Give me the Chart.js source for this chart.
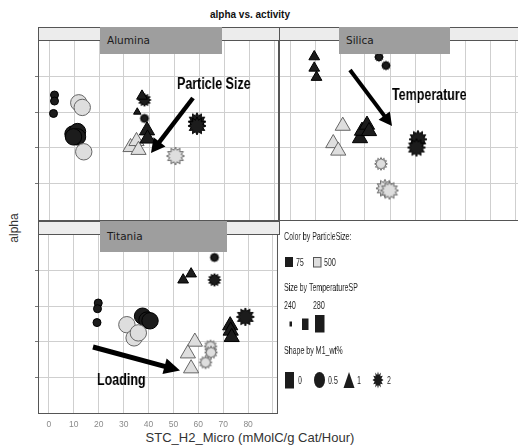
<!DOCTYPE html>
<html>
<head>
<meta charset="utf-8">
<title>alpha vs. activity</title>
<script src="https://cdn.jsdelivr.net/npm/chart.js@4.4.1/dist/chart.umd.min.js"></script>
<style>
  html, body { margin: 0; padding: 0; background: #fff; }
  body { width: 518px; height: 445px; position: relative; overflow: hidden; font-family: "Liberation Sans", Arial, sans-serif; }
  canvas { position: absolute; }
  .txt { position: absolute; white-space: nowrap; }
  .strip { position: absolute; height: 14px; box-sizing: border-box; background: #ececec;
           border: 1px solid #555; }
  .tab { position: absolute; background: #9e9e9e; color: #1b1b1b; font-family: "DejaVu Sans", sans-serif;
         font-size: 10.5px; padding-left: 7px; box-sizing: border-box; }
  .note { position: absolute; font-weight: bold; font-size: 16px; line-height: 18px; color: #000;
          transform: scaleX(0.78); transform-origin: left center; white-space: nowrap; will-change: transform; }
  .leg { position: absolute; font-size: 11px; line-height: 12px; color: #222; white-space: nowrap;
         transform: scaleX(0.64); transform-origin: left center; will-change: transform; }
  svg { position: absolute; left: 0; top: 0; }
</style>
</head>
<body>

<div class="txt" style="left:150px;top:9px;width:200px;text-align:center;font-weight:bold;font-size:10px;line-height:12px;color:#111">alpha vs. activity</div>
<div class="txt" style="left:-11px;top:221px;width:50px;height:14px;line-height:14px;text-align:center;font-size:12px;color:#333;transform:rotate(-90deg)">alpha</div>
<div class="txt" style="left:100px;top:431px;width:300px;text-align:center;font-size:13px;line-height:14px;color:#333">STC_H2_Micro (mMolC/g Cat/Hour)</div>

<canvas id="alumina" width="249" height="181" style="left:30px;top:40px"></canvas>
<canvas id="silica" width="241" height="181" style="left:279px;top:40px"></canvas>
<canvas id="titania" width="249" height="196" style="left:30px;top:234px"></canvas>

<div class="strip" style="left:38px;top:27px;width:242px"></div>
<div class="strip" style="left:279px;top:27px;width:245px"></div>
<div class="strip" style="left:38px;top:221px;width:242px"></div>
<div class="tab" style="left:100px;top:27px;width:122px;height:27px;line-height:27px">Alumina</div>
<div class="tab" style="left:339px;top:27px;width:111px;height:27px;line-height:27px">Silica</div>
<div class="tab" style="left:100px;top:221px;width:127px;height:31px;line-height:31px">Titania</div>

<div class="note" style="left:177px;top:75px">Particle Size</div>
<div class="note" style="left:392px;top:86px">Temperature</div>
<div class="note" style="left:97px;top:371px">Loading</div>

<div id="legend"></div>
<svg id="overlay" width="518" height="445"></svg>

<script>
// ---- values ----
const xTickLabels = [0, 10, 20, 30, 40, 50, 60, 70, 80];
const particleSizes = [75, 500];
const temperatureLabels = [240, 280];
const loadingLevels = [0, 0.5, 1, 2];

// Alumina
const aluminaX    = [2.2, 2.2, 1.8, 11.9, 13.3, 9.6, 11.4, 11.4, 9.8, 13.9, 38.2, 37.2, 35.3, 38.2, 32.6, 35.0, 35.8, 39.2, 39.4, 59.2, 59.2, 50.6];
const aluminaY    = [3.48, 3.31, 2.96, 3.26, 3.13, 2.38, 2.45, 2.30, 2.30, 1.88, 3.34, 3.45, 3.00, 2.82, 2.01, 2.18, 1.93, 2.48, 2.25, 2.73, 2.61, 1.76];
const aluminaPS   = [75, 75, 75, 500, 500, 75, 75, 75, 75, 500, 75, 75, 75, 75, 500, 500, 500, 75, 75, 75, 75, 500];
const aluminaTemp = [240, 240, 240, 280, 280, 280, 280, 280, 280, 280, 260, 260, 240, 240, 280, 280, 280, 280, 280, 280, 280, 280];
const aluminaWt   = [0.5, 0.5, 0.5, 0.5, 0.5, 0.5, 0.5, 0.5, 0.5, 0.5, 2, 1, 1, 2, 1, 1, 1, 1, 1, 2, 2, 2];

// Silica
const silicaX    = [9.7, 9.7, 10.6, 35.6, 38.4, 21.1, 17.3, 19.3, 28.0, 28.8, 30.8, 31.6, 36.4, 38.0, 39.8, 51.2, 50.6];
const silicaY    = [4.56, 4.24, 3.98, 4.55, 4.31, 2.61, 2.12, 1.91, 2.26, 2.47, 2.64, 2.46, 1.54, 0.85, 0.79, 2.23, 2.00];
const silicaPS   = [75, 75, 75, 75, 75, 500, 500, 500, 75, 75, 75, 75, 500, 500, 500, 75, 75];
const silicaTemp = [260, 260, 260, 240, 240, 280, 280, 280, 280, 280, 280, 280, 260, 280, 280, 280, 280];
const silicaWt   = [1, 1, 1, 2, 2, 1, 1, 1, 1, 1, 1, 1, 2, 2, 2, 2, 2];

// Titania
const titaniaX    = [66.5, 66.5, 53.9, 57.1, 19.8, 19.5, 19.3, 37.6, 39.4, 40.6, 31.3, 34.2, 35.9, 72.8, 73.0, 73.4, 78.9, 58.6, 55.8, 57.1, 64.9, 65.1, 62.9];
const titaniaY    = [4.37, 3.74, 3.74, 3.91, 3.09, 2.93, 2.54, 2.72, 2.61, 2.59, 2.48, 2.11, 2.25, 2.46, 2.31, 2.13, 2.70, 2.00, 1.67, 1.25, 1.87, 1.70, 1.42];
const titaniaPS   = [75, 75, 75, 75, 75, 75, 75, 75, 75, 75, 500, 500, 500, 75, 75, 75, 75, 500, 500, 500, 500, 500, 500];
const titaniaTemp = [240, 260, 260, 260, 240, 240, 240, 280, 280, 280, 280, 280, 280, 280, 280, 280, 280, 280, 280, 280, 260, 260, 260];
const titaniaWt   = [2, 2, 1, 1, 0.5, 0.5, 0.5, 0.5, 0.5, 0.5, 0.5, 0.5, 0.5, 1, 1, 1, 2, 1, 1, 1, 2, 2, 2];

// ---- styling ----
const DARK = '#1c1c1c', DARK_EDGE = '#000000';
const LIGHT = '#dedede', LIGHT_EDGE = '#666666';
const GRID = '#cfcfcf';
const markerRadius = { 240: 4, 260: 5.8, 280: 8.2 };

const starCache = {};
function starPath(g, cx, cy, rx, ry, spikes) {
    g.beginPath();
    for (let k = 0; k < spikes * 2; k++) {
        const a = Math.PI * k / spikes - Math.PI / 2;
        const f = k % 2 ? 0.66 : 1;
        g.lineTo(cx + rx * f * Math.cos(a), cy + ry * f * Math.sin(a));
    }
    g.closePath();
}
function starImage(temp, ps) {
    const key = temp + '_' + ps;
    if (starCache[key]) return starCache[key];
    const R = markerRadius[temp] * 1.1;
    const s = Math.ceil(2 * R + 3);
    const c = document.createElement('canvas');
    c.width = c.height = s;
    const g = c.getContext('2d');
    starPath(g, s / 2, s / 2, R, R, 12);
    g.fillStyle = ps === 500 ? LIGHT : DARK;
    g.fill();
    g.lineWidth = 1;
    g.strokeStyle = ps === 500 ? LIGHT_EDGE : DARK_EDGE;
    g.stroke();
    starCache[key] = c;
    return c;
}

const panelFrame = {
    id: 'panelFrame',
    afterDraw(chart) {
        const a = chart.chartArea, ctx = chart.ctx;
        ctx.save();
        ctx.strokeStyle = '#555';
        ctx.lineWidth = 1;
        ctx.strokeRect(a.left + 0.5, a.top + 0.5, a.right - a.left - 1, a.bottom - a.top - 1);
        ctx.restore();
    }
};

function makePanel(id, xs, ys, ps, temps, wts, cfg) {
    const points = xs.map((x, i) => ({ x: x, y: ys[i] }));
    const inner = v => v > 0 && v < 5;
    return new Chart(document.getElementById(id), {
        type: 'scatter',
        data: {
            datasets: [{
                data: points,
                pointStyle: c => {
                    const i = c.dataIndex;
                    if (i === undefined) return 'circle';
                    if (wts[i] === 2) return starImage(temps[i], ps[i]);
                    if (wts[i] === 1) return 'triangle';
                    if (wts[i] === 0) return 'rect';
                    return 'circle';
                },
                pointRadius: c => {
                    const i = c.dataIndex;
                    if (i === undefined) return 3;
                    const r = markerRadius[temps[i]];
                    return wts[i] === 1 ? r * 1.07 : r;
                },
                pointBackgroundColor: c => (c.dataIndex !== undefined && ps[c.dataIndex] === 500) ? LIGHT : DARK,
                pointBorderColor: c => (c.dataIndex !== undefined && ps[c.dataIndex] === 500) ? LIGHT_EDGE : DARK_EDGE,
                pointBorderWidth: 1
            }]
        },
        options: {
            responsive: false,
            animation: false,
            devicePixelRatio: 1,
            layout: { padding: 0, autoPadding: false },
            plugins: { legend: { display: false }, tooltip: { enabled: false } },
            scales: {
                x: {
                    type: 'linear', min: -4.4, max: 92,
                    ticks: {
                        stepSize: 10, includeBounds: false, display: cfg.labels,
                        autoSkip: false, maxRotation: 0, padding: 6, color: '#8a8a8a',
                        font: { size: 8.5, family: 'Liberation Sans' },
                        callback: v => xTickLabels.includes(v) ? String(v) : ''
                    },
                    grid: { color: GRID, drawTicks: false },
                    border: { display: false },
                    afterFit: s => { s.height = cfg.xh; }
                },
                y: {
                    type: 'linear', min: cfg.ymin, max: 5.03,
                    ticks: { stepSize: 1, includeBounds: false, display: false },
                    grid: {
                        color: c => inner(c.tick.value) ? GRID : 'rgba(0,0,0,0)',
                        tickColor: c => inner(c.tick.value) ? '#777' : 'rgba(0,0,0,0)',
                        drawTicks: cfg.yw > 0, tickLength: 3
                    },
                    border: { display: false },
                    afterFit: s => { s.width = cfg.yw; }
                }
            }
        },
        plugins: [panelFrame]
    });
}

makePanel('alumina', aluminaX, aluminaY, aluminaPS, aluminaTemp, aluminaWt, { yw: 8, xh: 0, labels: false, ymin: -0.07 });
makePanel('silica', silicaX, silicaY, silicaPS, silicaTemp, silicaWt, { yw: 0, xh: 0, labels: false, ymin: -0.07 });
makePanel('titania', titaniaX, titaniaY, titaniaPS, titaniaTemp, titaniaWt, { yw: 8, xh: 16, labels: true, ymin: -0.03 });

// ---- arrows ----
const NS = 'http://www.w3.org/2000/svg';
const overlay = document.getElementById('overlay');
function svgEl(tag, attrs, parent) {
    const e = document.createElementNS(NS, tag);
    for (const k in attrs) e.setAttribute(k, attrs[k]);
    (parent || overlay).appendChild(e);
    return e;
}
function arrow(x1, y1, x2, y2, head, half, width) {
    const dx = x2 - x1, dy = y2 - y1, L = Math.hypot(dx, dy);
    const ux = dx / L, uy = dy / L;
    const bx = x2 - ux * head, by = y2 - uy * head;
    svgEl('line', { x1: x1, y1: y1, x2: bx + ux, y2: by + uy, stroke: '#000', 'stroke-width': width });
    svgEl('polygon', {
        points: [x2, y2, bx - uy * half, by + ux * half, bx + uy * half, by - ux * half].join(' '),
        fill: '#000'
    });
}
arrow(193, 98, 151, 153, 14, 7.5, 4.5);
arrow(350, 70, 392, 126, 13, 7, 4);
arrow(93, 347, 180, 370.5, 16, 8, 5);

// ---- legend ----
const legend = document.getElementById('legend');
function legText(txt, x, y) {
    const d = document.createElement('div');
    d.className = 'leg';
    d.style.left = x + 'px';
    d.style.top = y + 'px';
    d.textContent = txt;
    legend.appendChild(d);
}
legText('Color by ParticleSize:', 284, 230);
svgEl('rect', { x: 285, y: 257, width: 8, height: 10, fill: DARK });
svgEl('rect', { x: 313.5, y: 257.5, width: 7.5, height: 9.5, fill: LIGHT, stroke: '#555' });
legText(String(particleSizes[0]), 296, 255.5);
legText(String(particleSizes[1]), 323.5, 255.5);

legText('Size by TemperatureSP', 284, 280.5);
legText(String(temperatureLabels[0]), 284, 298.5);
legText(String(temperatureLabels[1]), 313, 298.5);
svgEl('rect', { x: 289.5, y: 321.5, width: 2.5, height: 5, fill: DARK });
svgEl('rect', { x: 302, y: 318.5, width: 6.5, height: 11.5, fill: DARK });
svgEl('rect', { x: 315, y: 315, width: 9.5, height: 17.5, fill: DARK });

legText('Shape by M1_wt%', 284, 344);
svgEl('rect', { x: 285, y: 372, width: 9, height: 16.5, fill: DARK });
svgEl('ellipse', { cx: 319.5, cy: 380, rx: 5.5, ry: 8, fill: DARK });
svgEl('polygon', { points: '349,372 354.5,388 343.5,388', fill: DARK });
const sp = [];
for (let k = 0; k < 24; k++) {
    const a = Math.PI * k / 12 - Math.PI / 2, f = k % 2 ? 0.62 : 1;
    sp.push((378 + 5.5 * f * Math.cos(a)).toFixed(1) + ',' + (380 + 8.5 * f * Math.sin(a)).toFixed(1));
}
svgEl('polygon', { points: sp.join(' '), fill: DARK });
const wtX = [298, 328, 357, 387];
loadingLevels.forEach((w, i) => legText(String(w), wtX[i], 373.5));
</script>
</body>
</html>
